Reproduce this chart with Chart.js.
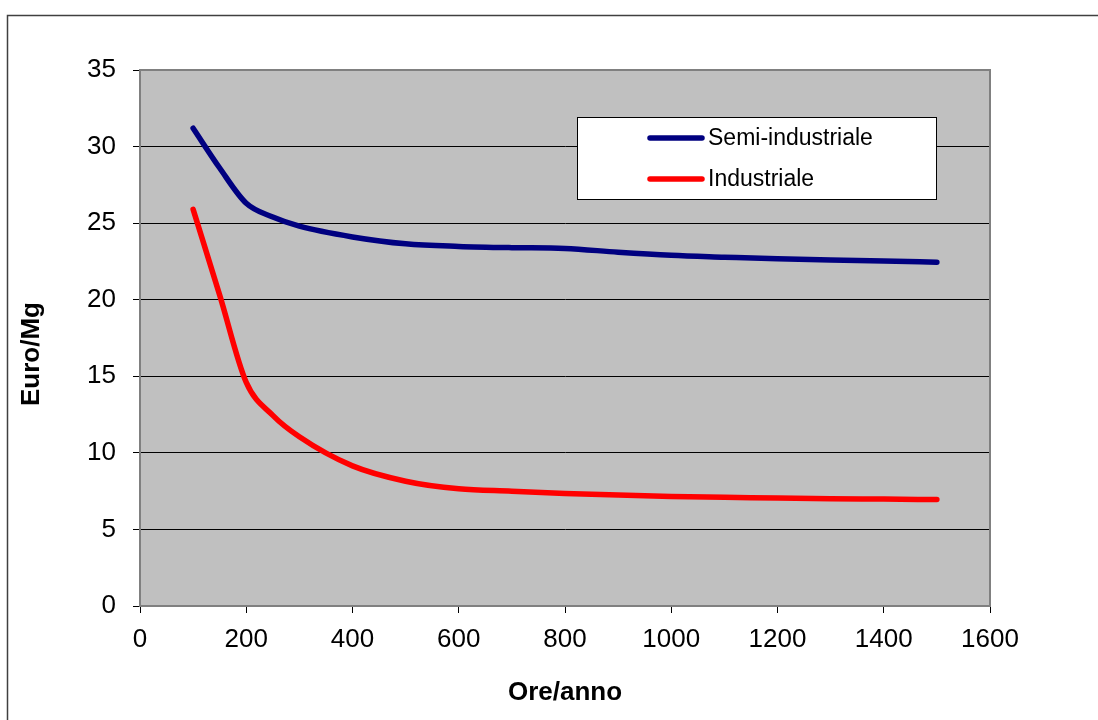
<!DOCTYPE html>
<html>
<head>
<meta charset="utf-8">
<title>Euro/Mg - Ore/anno</title>
<script src="https://cdn.jsdelivr.net/npm/chart.js@4/dist/chart.umd.min.js"></script>
<style>
  html, body { margin: 0; padding: 0; background: #fff; }
  #costChart { display: block; }
</style>
</head>
<body>
<canvas id="costChart" width="1098" height="720"></canvas>
<script>
// ore di lavoro annue
const oreAnno = [100, 150, 200, 250, 300, 400, 500, 600, 700, 800, 900, 1000, 1100, 1200, 1300, 1400, 1500];
// costo in Euro/Mg per i due cantieri
const semiIndustriale = [31.2, 28.6, 26.3, 25.4, 24.8, 24.1, 23.65, 23.48, 23.4, 23.35, 23.1, 22.9, 22.78, 22.67, 22.6, 22.52, 22.45];
const industriale = [25.9, 20.3, 14.6, 12.45, 11.05, 9.15, 8.15, 7.65, 7.5, 7.35, 7.25, 7.15, 7.1, 7.05, 7.0, 6.98, 6.95];
const serieNomi = ['Semi-industriale', 'Industriale'];
const serieColori = ['#000080', '#ff0000'];
const xTicks = [0, 200, 400, 600, 800, 1000, 1200, 1400, 1600];
const yTicks = [0, 5, 10, 15, 20, 25, 30, 35];

const FONT = '"Liberation Sans", Arial, sans-serif';

const toPoints = (vals) => vals.map((v, i) => ({ x: oreAnno[i], y: v }));

// grey plot area, outer frame, plot border, y title and the boxed legend
const plotDecor = {
    id: 'plotDecor',
    beforeDraw(chart) {
        const { ctx, chartArea: a } = chart;
        ctx.save();
        ctx.strokeStyle = '#404040';
        ctx.lineWidth = 1.5;
        ctx.strokeRect(7.5, 15.5, 1200, 800);
        ctx.fillStyle = '#c0c0c0';
        ctx.fillRect(a.left, a.top, a.right - a.left, a.bottom - a.top);
        ctx.restore();
    },
    afterDraw(chart) {
        const { ctx, chartArea: a } = chart;
        ctx.save();
        ctx.strokeStyle = '#808080';
        ctx.lineWidth = 2;
        ctx.beginPath();
        ctx.moveTo(a.left, a.top);
        ctx.lineTo(a.right, a.top);
        ctx.lineTo(a.right, a.bottom);
        ctx.stroke();

        // y axis title, sits a little below the plot centre
        ctx.save();
        ctx.translate(32, 354);
        ctx.rotate(-Math.PI / 2);
        ctx.font = 'bold 26px ' + FONT;
        ctx.fillStyle = '#000';
        ctx.textAlign = 'center';
        ctx.textBaseline = 'middle';
        ctx.fillText('Euro/Mg', 0, 0);
        ctx.restore();

        // legend
        ctx.fillStyle = '#fff';
        ctx.fillRect(578, 118, 358, 81);
        ctx.strokeStyle = '#000';
        ctx.lineWidth = 1;
        ctx.strokeRect(577.5, 117.5, 359, 82);
        const rows = [138, 179];
        ctx.font = '23px ' + FONT;
        ctx.textBaseline = 'middle';
        chart.data.datasets.forEach((ds, i) => {
            ctx.strokeStyle = ds.borderColor;
            ctx.lineWidth = 5.5;
            ctx.lineCap = 'round';
            ctx.beginPath();
            ctx.moveTo(650, rows[i]);
            ctx.lineTo(702, rows[i]);
            ctx.stroke();
            ctx.fillStyle = '#000';
            ctx.fillText(ds.label, 708, rows[i] + 1);
        });
        ctx.restore();
    }
};

new Chart(document.getElementById('costChart'), {
    type: 'line',
    data: {
        datasets: serieNomi.map((nome, i) => ({
            label: nome,
            data: toPoints(i === 0 ? semiIndustriale : industriale),
            borderColor: serieColori[i],
            borderWidth: 5.5,
            borderCapStyle: 'round',
            borderJoinStyle: 'round',
            pointRadius: 0,
            cubicInterpolationMode: 'monotone',
            fill: false
        }))
    },
    options: {
        responsive: false,
        animation: false,
        devicePixelRatio: 1,
        layout: { padding: { top: 70, right: 108, left: 0, bottom: 0 } },
        plugins: {
            legend: { display: false },
            tooltip: { enabled: false }
        },
        scales: {
            x: {
                type: 'linear',
                min: 0,
                max: 1600,
                afterBuildTicks: (s) => { s.ticks = xTicks.map(v => ({ value: v })); },
                afterFit: (s) => { s.height = 114; },
                grid: { drawOnChartArea: false, tickLength: 7, tickColor: '#000', tickWidth: 1 },
                border: { color: '#808080', width: 2 },
                ticks: {
                    color: '#000',
                    padding: 11,
                    font: { family: FONT, size: 26 },
                    callback: (v) => String(v)
                },
                title: {
                    display: true,
                    text: 'Ore/anno',
                    color: '#000',
                    padding: { top: 0, bottom: 12 },
                    font: { family: FONT, size: 26, weight: 'bold' }
                }
            },
            y: {
                min: 0,
                max: 35,
                afterBuildTicks: (s) => { s.ticks = yTicks.map(v => ({ value: v })); },
                afterFit: (s) => { s.width = 140; },
                grid: {
                    color: (c) => (c.tick && (c.tick.value === 0 || c.tick.value === 35)) ? 'rgba(0,0,0,0)' : '#000',
                    lineWidth: 1,
                    tickLength: 7,
                    tickColor: '#000'
                },
                border: { color: '#808080', width: 2 },
                ticks: {
                    color: '#000',
                    padding: 17,
                    font: { family: FONT, size: 26 },
                    callback: (v) => String(v)
                }
            }
        }
    },
    plugins: [plotDecor]
});
</script>
</body>
</html>
